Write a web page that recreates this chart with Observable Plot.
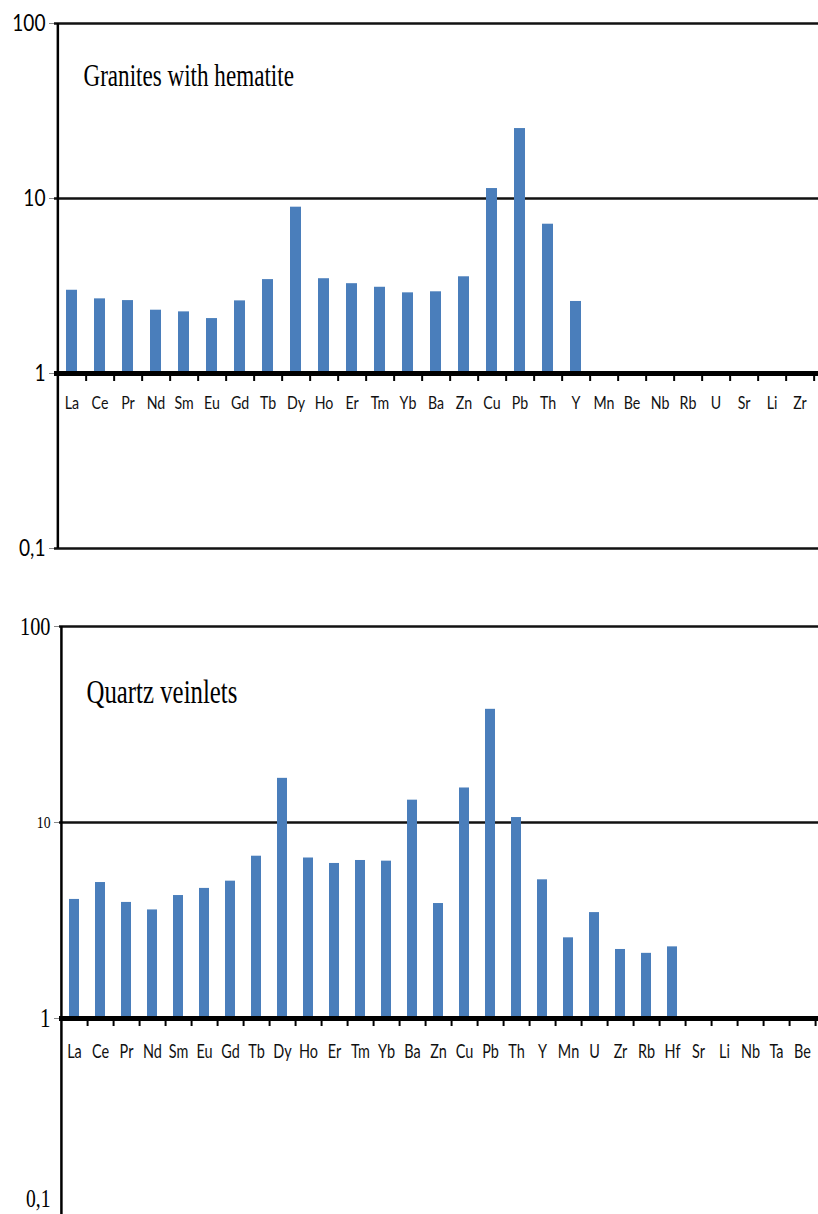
<!DOCTYPE html>
<html>
<head>
<meta charset="utf-8">
<script src="https://cdn.jsdelivr.net/npm/d3@7"></script>
<script src="https://cdn.jsdelivr.net/npm/@observablehq/plot@0.6"></script>
<style>
  body { margin: 0; background: #fff; }
  #c1, #c2 { display: block; width: 818px; }
  svg { display: block; }
</style>
</head>
<body>
<div id="c1"></div>
<div id="c2"></div>
<script>
// ---------- data ----------
const graniteTitle = "Granites with hematite";
const graniteElements = ["La","Ce","Pr","Nd","Sm","Eu","Gd","Tb","Dy","Ho","Er","Tm","Yb","Ba","Zn","Cu","Pb","Th","Y","Mn","Be","Nb","Rb","U","Sr","Li","Zr"];
const graniteValues = [2.99, 2.67, 2.61, 2.30, 2.25, 2.06, 2.60, 3.44, 8.92, 3.48, 3.26, 3.11, 2.89, 2.93, 3.57, 11.4, 25.1, 7.13, 2.58, 1, 1, 1, 1, 1, 1, 1, 1];

const quartzTitle = "Quartz veinlets";
const quartzElements = ["La","Ce","Pr","Nd","Sm","Eu","Gd","Tb","Dy","Ho","Er","Tm","Yb","Ba","Zn","Cu","Pb","Th","Y","Mn","U","Zr","Rb","Hf","Sr","Li","Nb","Ta","Be"];
const quartzValues = [4.05, 4.94, 3.91, 3.58, 4.24, 4.61, 5.02, 6.73, 16.8, 6.59, 6.18, 6.40, 6.35, 13.0, 3.86, 15.0, 37.8, 10.6, 5.10, 2.58, 3.47, 2.25, 2.15, 2.32, 1, 1, 1, 1, 1];

const tickValues = [100, 10, 1, 0.1];
const tickLabels = ["100", "10", "1", "0,1"];

// ---------- styles ----------
const BAR = "#4a7ebb";
const labelOf = v => tickLabels[tickValues.indexOf(v)];

function panel(cfg) {
  const width = 818;
  const step = (width - cfg.marginLeft) / cfg.elements.length;
  const data = cfg.elements.map((el, i) => ({el, v: cfg.values[i]}));
  const ySizes = cfg.ySizes;
  const mainTicks = tickValues.filter(v => !(cfg.bottomLabelSeparate && v === 0.1));
  const marks = [
    Plot.ruleY(cfg.grid, {stroke: "#111", strokeWidth: 2.5}),
    Plot.barY(data, {x: "el", y1: 1, y2: "v", fill: BAR}),
    Plot.ruleY([1], {stroke: "#000", strokeWidth: 5}),
    Plot.ruleX(cfg.elements, {x: d => d, y1: 1, y2: 1, dx: step / 2, insetBottom: -8, stroke: "#000", strokeWidth: 2}),
    Plot.ruleX([cfg.elements[0]], {x: d => d, y1: 0.1, y2: 100, dx: -step / 2, stroke: "#000", strokeWidth: 2.5}),
    Plot.axisY(tickValues, {tickSize: 5, tickFormat: () => "", stroke: "#888", label: null}),
    Plot.text(mainTicks, {y: d => d, frameAnchor: "left", text: labelOf, textAnchor: "end", dx: -9,
      fontFamily: cfg.yFont, fontSize: d => ySizes[labelOf(d)], fill: "#000"}),
    Plot.text(cfg.elements, {x: d => d, y: 1, dy: cfg.labelDy, text: d => d, fontFamily: "Lato",
      fontSize: cfg.labelSize, fill: "#111"}),
    Plot.text([cfg.title], {frameAnchor: "top-left", text: d => d, dx: cfg.titleDx, dy: cfg.titleDy,
      textAnchor: "start", lineAnchor: "bottom", fontFamily: "Liberation Serif", fontSize: cfg.titleSize,
      fill: "#000"})
  ];
  if (cfg.bottomLabelSeparate) {
    marks.push(Plot.text([0.1], {y: d => d, frameAnchor: "left", text: labelOf, textAnchor: "end", dx: -9, dy: -8,
      lineAnchor: "bottom", fontFamily: cfg.yFont, fontSize: ySizes["0,1"], fill: "#000"}));
  }
  return Plot.plot({
    width, height: cfg.height,
    marginTop: cfg.marginTop, marginBottom: cfg.marginBottom, marginLeft: cfg.marginLeft, marginRight: 0,
    style: {background: "#fff", overflow: "visible"},
    x: {type: "band", domain: cfg.elements, paddingInner: 0.6, paddingOuter: 0.3, axis: null},
    y: {type: "log", domain: [0.1, 100]},
    marks
  });
}

// horizontally condense texts (the reference uses narrow fonts)
function squeeze(svg, cfg) {
  svg.querySelectorAll("text").forEach(t => {
    const s = t.textContent;
    let f = null;
    if (s === cfg.title) f = cfg.titleF;
    else if (cfg.elements.includes(s)) f = cfg.xF;
    else if (tickLabels.includes(s)) f = cfg.yF;
    if (f == null) return;
    const w = t.getComputedTextLength();
    if (w > 0) {
      t.setAttribute("textLength", (w * f).toFixed(1));
      t.setAttribute("lengthAdjust", "spacingAndGlyphs");
    }
  });
}

const topChart = panel({
  elements: graniteElements, values: graniteValues, title: graniteTitle,
  height: 600, marginTop: 23, marginBottom: 52, marginLeft: 54,
  grid: [100, 10, 0.1],
  yFont: "Lato", ySizes: {"100": 23, "10": 23, "1": 23, "0,1": 23},
  labelDy: 30, labelSize: 16.5,
  titleDx: 29, titleDy: 62, titleSize: 31
});
document.getElementById("c1").appendChild(topChart);

const bottomChart = panel({
  elements: quartzElements, values: quartzValues, title: quartzTitle,
  height: 614, marginTop: 26, marginBottom: 0, marginLeft: 59,
  grid: [100, 10],
  yFont: "Liberation Serif", ySizes: {"100": 26, "10": 17.5, "1": 27, "0,1": 25},
  bottomLabelSeparate: true,
  labelDy: 34, labelSize: 18.5,
  titleDx: 27, titleDy: 76, titleSize: 34
});
document.getElementById("c2").appendChild(bottomChart);

squeeze(topChart, {title: graniteTitle, elements: graniteElements, titleF: 0.745, xF: 0.86, yF: 0.83});
squeeze(bottomChart, {title: quartzTitle, elements: quartzElements, titleF: 0.73, xF: 0.78, yF: 0.78});
</script>
</body>
</html>
